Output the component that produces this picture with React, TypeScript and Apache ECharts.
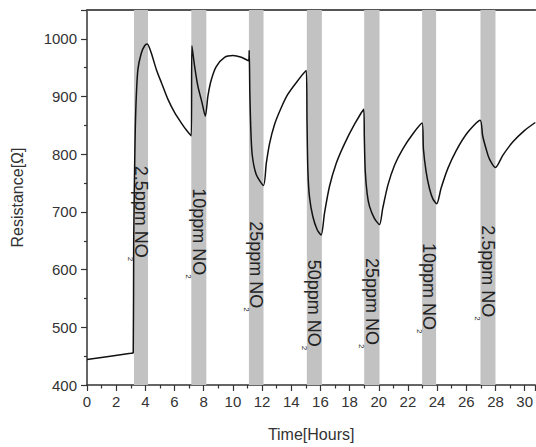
import React, { useEffect, useRef } from "react";
import * as echarts from "echarts";

const FONT = "'Liberation Sans', Arial, sans-serif";

// Resistance trace: time (hours) and resistance (ohm)
const TIME = [
  0, 1.6, 3.0, 3.17, 3.2, 3.27, 3.31, 3.38, 3.49, 3.72, 3.95, 4.13, 4.41, 4.75, 5.1, 5.55, 6.01, 6.47, 6.81, 7.15,
  7.19, 7.38, 7.6, 7.88, 8.11, 8.29, 8.52, 8.86, 9.43, 10.0, 10.58, 11.08,
  11.12, 11.16, 11.22, 11.32, 11.6, 12.1, 12.29, 12.51, 12.86, 13.32, 13.77, 14.34, 15.03,
  15.08, 15.14, 15.25, 15.48, 15.78, 16.05, 16.28, 16.62, 17.08, 17.65, 18.34, 18.97,
  19.01, 19.07, 19.2, 19.36, 19.7, 20.05, 20.27, 20.62, 21.08, 21.64, 22.33, 22.97,
  23.06, 23.25, 23.47, 23.7, 23.97, 24.27, 24.73, 25.3, 26.1, 26.95,
  27.12, 27.36, 27.58, 28.0, 28.5, 29.18, 29.98, 30.73,
];
const RESISTANCE = [
  444, 450, 455, 456, 650, 786, 844, 901, 947, 975, 988, 991, 975, 947, 924, 895, 872, 854, 842, 832,
  988, 952, 918, 890, 866, 901, 929, 952, 968, 971, 968, 962,
  980, 910, 850, 800, 765, 746, 784, 818, 852, 881, 904, 924, 945,
  858, 772, 726, 692, 669, 660, 698, 744, 784, 818, 852, 878,
  829, 772, 732, 710, 689, 678, 706, 746, 781, 809, 835, 854,
  809, 769, 741, 723, 714, 741, 775, 806, 838, 859,
  832, 809, 792, 777, 798, 821, 841, 855,
];

// NO2 exposure windows (hours)
const BAND_START = [3.22, 7.15, 11.1, 15.07, 19.0, 22.97, 26.97];
const BAND_END = [4.18, 8.18, 12.1, 16.1, 20.05, 23.93, 28.0];
const BAND_LABELS = ["2.5ppm NO", "10ppm NO", "25ppm NO", "50ppm NO", "25ppm NO", "10ppm NO", "2.5ppm NO"];
const LABEL_TOP = [780, 741, 684, 617, 620, 646, 677];

const X_MIN = 0;
const X_MAX = 30.73;
const Y_MIN = 400;
const Y_MAX = 1050;

function measure(text: string, font: string): number {
  const c = document.createElement("canvas").getContext("2d");
  if (!c) return text.length * 9;
  c.font = font;
  return c.measureText(text).width;
}

export default function App() {
  const ref = useRef<HTMLDivElement>(null);
  useEffect(() => {
    if (!ref.current) return;
    const chart = echarts.init(ref.current, null, { renderer: "svg" });
    const lineData = TIME.map((t, i) => [t, RESISTANCE[i]]);
    const bandData = BAND_START.map((s, i) => [s, BAND_END[i]]);
    const labelData = BAND_LABELS.map((_, i) => [(BAND_START[i] + BAND_END[i]) / 2, LABEL_TOP[i], i]);
    const mainFont = `18px ${FONT}`;

    chart.setOption({
      animation: false,
      backgroundColor: "#ffffff",
      grid: { left: 87, right: 0, top: 10, bottom: 59, containLabel: false },
      xAxis: [
        {
          type: "value",
          min: X_MIN,
          max: X_MAX,
          interval: 2,
          position: "bottom",
          axisLine: { show: true, lineStyle: { color: "#333", width: 1.5 } },
          axisTick: { show: true, length: 6, lineStyle: { color: "#333", width: 1.2 } },
          minorTick: { show: true, splitNumber: 2, length: 3.5, lineStyle: { color: "#333", width: 1.2 } },
          axisLabel: {
            fontSize: 15,
            color: "#333",
            fontFamily: FONT,
            margin: 9,
            showMaxLabel: false,
            formatter: (v: number) => String(v),
          },
          splitLine: { show: false },
          name: "Time[Hours]",
          nameLocation: "middle",
          nameGap: 41,
          nameTextStyle: { fontSize: 16, color: "#333", fontFamily: FONT },
        },
        {
          type: "value",
          min: X_MIN,
          max: X_MAX,
          position: "top",
          axisLine: { show: true, lineStyle: { color: "#555", width: 2 } },
          axisTick: { show: false },
          axisLabel: { show: false },
          splitLine: { show: false },
        },
      ],
      yAxis: {
        type: "value",
        min: Y_MIN,
        max: Y_MAX,
        interval: 100,
        axisLine: { show: true, lineStyle: { color: "#333", width: 1.5 } },
        axisTick: { show: true, length: 6, lineStyle: { color: "#333", width: 1.2 } },
        minorTick: { show: true, splitNumber: 2, length: 3, lineStyle: { color: "#333", width: 1.2 } },
        axisLabel: {
          fontSize: 15,
          color: "#333",
          fontFamily: FONT,
          margin: 10,
          showMaxLabel: false,
          formatter: (v: number) => String(v),
        },
        splitLine: { show: false },
        name: "Resistance[Ω]",
        nameLocation: "middle",
        nameGap: 62,
        nameTextStyle: { fontSize: 16, color: "#333", fontFamily: FONT },
      },
      series: [
        {
          type: "custom",
          z: 1,
          silent: true,
          data: bandData,
          renderItem: (params: any, api: any) => {
            const p0 = api.coord([api.value(0), Y_MAX]);
            const p1 = api.coord([api.value(1), Y_MIN]);
            return {
              type: "rect",
              shape: { x: p0[0], y: p0[1], width: p1[0] - p0[0], height: p1[1] - p0[1] },
              style: { fill: "#c2c2c2" },
            };
          },
        },
        {
          type: "line",
          z: 3,
          data: lineData,
          symbol: "none",
          smooth: 0.25,
          lineStyle: { color: "#111", width: 1.5 },
        },
        {
          type: "custom",
          z: 4,
          silent: true,
          data: labelData,
          renderItem: (params: any, api: any) => {
            const pt = api.coord([api.value(0), api.value(1)]);
            const idx = api.value(2);
            const text = BAND_LABELS[idx];
            const w = measure(text, mainFont);
            return {
              type: "group",
              x: pt[0],
              y: pt[1],
              rotation: -Math.PI / 2,
              children: [
                {
                  type: "text",
                  x: 0,
                  y: 0,
                  style: {
                    text,
                    fontSize: 18,
                    fontFamily: FONT,
                    fill: "#222",
                    align: "left",
                    verticalAlign: "middle",
                  },
                },
                {
                  type: "text",
                  x: w - 1,
                  y: 10,
                  style: {
                    text: "2",
                    fontSize: 8,
                    fontFamily: FONT,
                    fill: "#222",
                    align: "left",
                    verticalAlign: "middle",
                  },
                },
              ],
            };
          },
        },
      ],
    });
    return () => chart.dispose();
  }, []);
  return (
    <div
      ref={ref}
      style={{ position: "fixed", left: 0, top: 0, width: 536, height: 447, background: "#fff" }}
    />
  );
}
